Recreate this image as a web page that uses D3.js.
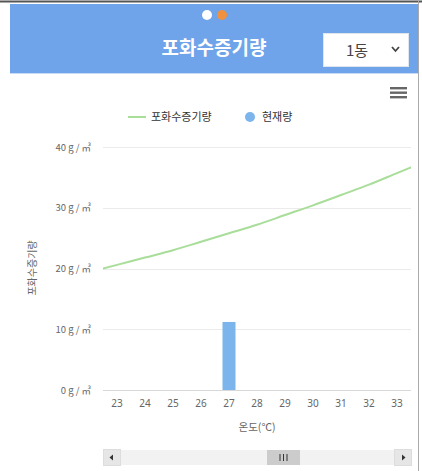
<!DOCTYPE html>
<html><head><meta charset="utf-8">
<script src="https://cdn.jsdelivr.net/npm/d3@7"></script>
<style>
html,body{margin:0;padding:0;background:#fff;}
svg{display:block;font-family:"Noto Sans CJK KR","Noto Sans",sans-serif;}
</style></head>
<body>
<svg id="c" width="422" height="471"></svg>
<script>
// Visible temperature categories (°C)
const categories = [23, 24, 25, 26, 27, 28, 29, 30, 31, 32, 33];
// Saturation vapour density (g/㎥) by temperature, incl. one step beyond the window on each side
const satTemps  = [22, 23, 24, 25, 26, 27, 28, 29, 30, 31, 32, 33, 34];
const satValues = [19.4, 20.6, 21.8, 23.0, 24.4, 25.8, 27.2, 28.8, 30.4, 32.1, 33.8, 35.7, 37.6];
// Current amount
const currentTemps  = [27];
const currentValues = [11.2];
const yTicks = [0, 10, 20, 30, 40];

const svg = d3.select("#c");
const W = 422, H = 471;
const plot = {left: 103, right: 411, top: 147, bottom: 390};

// page frame
svg.append("rect").attr("x",0).attr("y",0).attr("width",W).attr("height",H).attr("fill","#fff");
svg.append("line").attr("x1",0).attr("x2",W).attr("y1",1.5).attr("y2",1.5).attr("stroke","#555").attr("stroke-width",2);
svg.append("line").attr("x1",418.5).attr("x2",418.5).attr("y1",0).attr("y2",H).attr("stroke","#aaa").attr("stroke-width",1);

// header band
svg.append("rect").attr("x",10).attr("y",4).attr("width",408).attr("height",69).attr("fill","#6fa3ea");
svg.append("line").attr("x1",10).attr("x2",418).attr("y1",73.5).attr("y2",73.5).attr("stroke","#c9dcf5");
svg.append("circle").attr("cx",207).attr("cy",15).attr("r",5).attr("fill","#fff");
svg.append("circle").attr("cx",222).attr("cy",15).attr("r",5).attr("fill","#f0913f");
svg.append("text").attr("x",214).attr("y",55).attr("text-anchor","middle")
  .attr("fill","#fff").attr("font-size",19).attr("font-weight","bold").text("포화수증기량");
// select box
svg.append("rect").attr("x",323.5).attr("y",33.5).attr("width",85).attr("height",33).attr("fill","#fff").attr("stroke","#dfe6ee");
svg.append("text").attr("x",346).attr("y",56).attr("fill","#444").attr("font-size",15).text("1동");
svg.append("path").attr("d","M392,47 L395.5,51 L399,47").attr("fill","none").attr("stroke","#444").attr("stroke-width",1.8);

// menu icon
[88, 92.5, 97].forEach(y => svg.append("rect").attr("x",390).attr("y",y-1).attr("width",17).attr("height",2.4).attr("fill","#666"));

// scales
const x = d3.scaleBand().domain(categories).range([plot.left, plot.right]).padding(0);
const xLin = d3.scaleLinear().domain([categories[0]-0.5, categories[categories.length-1]+0.5]).range([plot.left, plot.right]);
const y = d3.scaleLinear().domain([0, 40]).range([plot.bottom, plot.top]);

// gridlines
svg.append("g").selectAll("line").data(yTicks.filter(d => d > 0)).join("line")
  .attr("x1",plot.left).attr("x2",plot.right)
  .attr("y1",d => Math.round(y(d))+0.5).attr("y2",d => Math.round(y(d))+0.5)
  .attr("stroke","#ebebeb");

// y axis labels
const yAxis = d3.axisLeft(y).tickValues(yTicks).tickSize(0).tickPadding(12).tickFormat(d => d + " g / ㎥");
const gy = svg.append("g").attr("transform",`translate(${plot.left},0)`).call(yAxis);
gy.select(".domain").remove();
gy.selectAll("text").attr("fill","#666").attr("font-size",9.5).attr("font-family","'Noto Sans CJK KR',sans-serif");

// y title
svg.append("text").attr("transform","translate(36,268) rotate(-90)").attr("text-anchor","middle")
  .attr("fill","#666").attr("font-size",10).text("포화수증기량");

// clip
svg.append("clipPath").attr("id","clip").append("rect")
  .attr("x",plot.left).attr("y",plot.top-20).attr("width",plot.right-plot.left).attr("height",plot.bottom-plot.top+20);

// bars
svg.append("g").selectAll("rect").data(currentTemps.map((t,i)=>({t, v: currentValues[i]}))).join("rect")
  .attr("x", d => x(d.t) + x.bandwidth()/2 - 6.5).attr("width", 13)
  .attr("y", d => y(d.v)).attr("height", d => y(0) - y(d.v))
  .attr("fill","#7cb5ec");

// saturation line
const line = d3.line().x((d,i) => xLin(satTemps[i])).y(d => y(d)).curve(d3.curveMonotoneX);
svg.append("path").datum(satValues).attr("clip-path","url(#clip)")
  .attr("d", line).attr("fill","none").attr("stroke","#a9dd9a").attr("stroke-width",2);

// x axis
const xAxis = d3.axisBottom(x).tickSize(0).tickPadding(10);
const gx = svg.append("g").attr("transform",`translate(0,${plot.bottom})`).call(xAxis);
gx.select(".domain").attr("stroke","#d8d8d8").attr("d",`M${plot.left},0.5H${plot.right}`);
gx.selectAll("text").attr("fill","#666").attr("font-size",10).attr("font-family","'Noto Sans',sans-serif");
svg.append("text").attr("x",257).attr("y",431).attr("text-anchor","middle").attr("fill","#666").attr("font-size",10.5).text("온도(℃)");

// legend
svg.append("line").attr("x1",128).attr("x2",146).attr("y1",117).attr("y2",117).attr("stroke","#a9dd9a").attr("stroke-width",2);
svg.append("text").attr("x",151).attr("y",121).attr("fill","#333").attr("font-size",11).text("포화수증기량");
svg.append("circle").attr("cx",250).attr("cy",117).attr("r",5).attr("fill","#7cb5ec");
svg.append("text").attr("x",262).attr("y",121).attr("fill","#333").attr("font-size",11).text("현재량");

// scrollbar
const sb = svg.append("g");
sb.append("rect").attr("x",103).attr("y",450).attr("width",309).attr("height",15).attr("fill","#f2f2f2");
sb.append("rect").attr("x",103.5).attr("y",449.5).attr("width",17).attr("height",16).attr("fill","#e6e6e6").attr("stroke","#ddd");
sb.append("rect").attr("x",394.5).attr("y",449.5).attr("width",17).attr("height",16).attr("fill","#e6e6e6").attr("stroke","#ddd");
sb.append("path").attr("d","M113,454.5 L109.5,457.5 L113,460.5Z").attr("fill","#333");
sb.append("path").attr("d","M402,454.5 L405.5,457.5 L402,460.5Z").attr("fill","#333");
sb.append("rect").attr("x",267).attr("y",450).attr("width",33).attr("height",15).attr("fill","#cccccc");
[280, 283.5, 287].forEach(gxp => sb.append("line").attr("x1",gxp).attr("x2",gxp).attr("y1",454).attr("y2",461).attr("stroke","#333"));
</script>
</body></html>
